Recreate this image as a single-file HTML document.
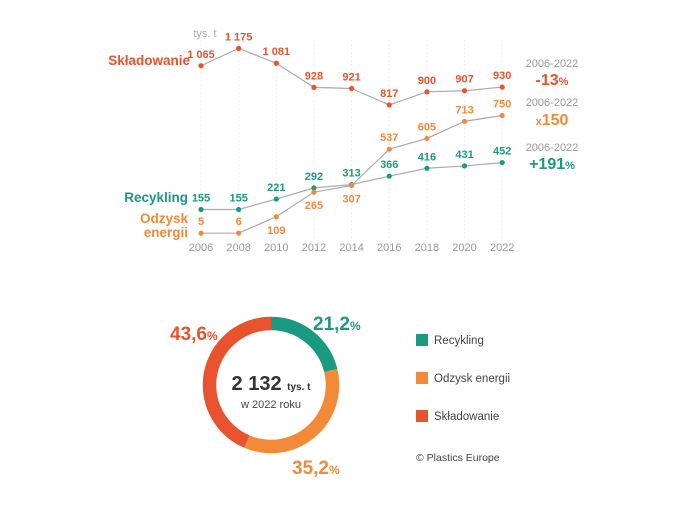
<!DOCTYPE html>
<html><head><meta charset="utf-8">
<style>
body{margin:0;background:#fff;width:696px;height:504px;overflow:hidden;font-family:"Liberation Sans",sans-serif}
svg text{font-family:"Liberation Sans",sans-serif}
</style></head>
<body>
<svg id="c" width="696" height="504" xmlns="http://www.w3.org/2000/svg">
<g id="grid"></g>
<g id="lines"></g>
<text x="205" y="37" font-size="11" fill="#aaa" text-anchor="middle">tys. t</text>
<text x="190" y="65" font-size="13.5" fill="#e8522e" text-anchor="end" font-weight="bold">Składowanie</text>
<text x="188" y="202" font-size="13.5" fill="#1a9a80" text-anchor="end" font-weight="bold">Recykling</text>
<text x="188" y="223" font-size="13.5" fill="#f28a3a" text-anchor="end" font-weight="bold">Odzysk</text>
<text x="188" y="237" font-size="13.5" fill="#f28a3a" text-anchor="end" font-weight="bold">energii</text>
<g text-anchor="middle">
<text x="552" y="67" font-size="11" fill="#999">2006-2022</text>
<text x="552" y="85" font-size="16" font-weight="bold" fill="#e8522e">-13<tspan font-size="11">%</tspan></text>
<text x="552" y="106" font-size="11" fill="#999">2006-2022</text>
<text x="552" y="125" font-size="16" font-weight="bold" fill="#f28a3a"><tspan font-size="11">x</tspan>150</text>
<text x="552" y="151" font-size="11" fill="#999">2006-2022</text>
<text x="552" y="169" font-size="16" font-weight="bold" fill="#1a9a80">+191<tspan font-size="11">%</tspan></text>
</g>
<g id="donut"></g>
<text x="271" y="390" font-size="20" font-weight="bold" fill="#333" text-anchor="middle">2 132 <tspan font-size="10">tys. t</tspan></text>
<text x="271" y="408" font-size="11" fill="#444" text-anchor="middle">w 2022 roku</text>
<text x="313" y="330" font-size="19" font-weight="bold" fill="#1a9a80">21,2<tspan font-size="12">%</tspan></text>
<text x="292" y="474" font-size="19" font-weight="bold" fill="#f28a3a">35,2<tspan font-size="12">%</tspan></text>
<text x="170" y="340" font-size="19" font-weight="bold" fill="#e8522e">43,6<tspan font-size="12">%</tspan></text>
<g font-size="11.5" fill="#444">
<rect x="416" y="334" width="12" height="12" fill="#1a9a80"/>
<text x="434" y="344">Recykling</text>
<rect x="416" y="372" width="12" height="12" fill="#f28a3a"/>
<text x="434" y="382">Odzysk energii</text>
<rect x="416" y="410" width="12" height="12" fill="#e8522e"/>
<text x="434" y="420">Składowanie</text>
<text x="416" y="461" font-size="10.5">© Plastics Europe</text>
</g>
</svg>
<script>
const years=[2006,2008,2010,2012,2014,2016,2018,2020,2022];
const skladowanie=[1065,1175,1081,928,921,817,900,907,930];
const recykling=[155,155,221,292,313,366,416,431,452];
const odzysk=[5,6,109,265,307,537,605,713,750];
const sklLabels=["1 065","1 175","1 081","928","921","817","900","907","930"];
const odzBelow=[false,false,true,true,true,false,false,false,false];
const shares=[21.2,35.2,43.6];
const shareNames=["recykling","odzysk","skladowanie"];
const shareColors=["#1a9a80","#f28a3a","#e8522e"];
const NS="http://www.w3.org/2000/svg";
const x=i=>201+i*37.65;
const y=v=>234-v/6.33;
function mk(tag,attrs,parent){const e=document.createElementNS(NS,tag);for(const k in attrs)e.setAttribute(k,attrs[k]);parent.appendChild(e);return e;}
const grid=document.getElementById('grid'),lines=document.getElementById('lines');
years.forEach((yr,i)=>{
 const l=mk('line',{x1:x(i),x2:x(i),y1:40,y2:238,stroke:'#eee','stroke-dasharray':'2,2'},grid);
 
 
 const t=mk('text',{x:x(i),y:251,'font-size':11,fill:'#999','text-anchor':'middle'},grid);
 t.textContent=yr;
 
 
});
function series(vals,color,name,labelFn){
 const p=mk('polyline',{points:vals.map((v,i)=>x(i)+','+y(v)).join(' '),fill:'none',stroke:'#aaa','stroke-width':1.2},lines);
 
 
 vals.forEach((v,i)=>{
  const c=mk('circle',{cx:x(i),cy:y(v),r:2.6,fill:color},lines);
  
  
  const [txt,dy]=labelFn(v,i);
  const t=mk('text',{x:x(i),y:y(v)+dy,'font-size':11,'font-weight':'bold',fill:color,'text-anchor':'middle'},lines);
  t.textContent=txt;
  
  
 });
}
series(skladowanie,'#e8522e','skladowanie',(v,i)=>[sklLabels[i],-8]);
series(recykling,'#1a9a80','recykling',(v,i)=>[String(v),-8]);
series(odzysk,'#f28a3a','odzysk',(v,i)=>[String(v),odzBelow[i]?17:-8]);
const donut=document.getElementById('donut');
const cx=271,cy=385,R=61.5,W=13.5,C=2*Math.PI*R;
const tot=shares.reduce((a,b)=>a+b,0);let acc=0;
shares.forEach((s,i)=>{
 const len=s/tot*C;
 const c=mk('circle',{cx:cx,cy:cy,r:R,fill:'none',stroke:shareColors[i],'stroke-width':W,'stroke-dasharray':len+' '+(C-len),'stroke-dashoffset':-acc,transform:'rotate(-90 '+cx+' '+cy+')'},donut);
 
 
 acc+=len;
});
</script>
</body></html>
